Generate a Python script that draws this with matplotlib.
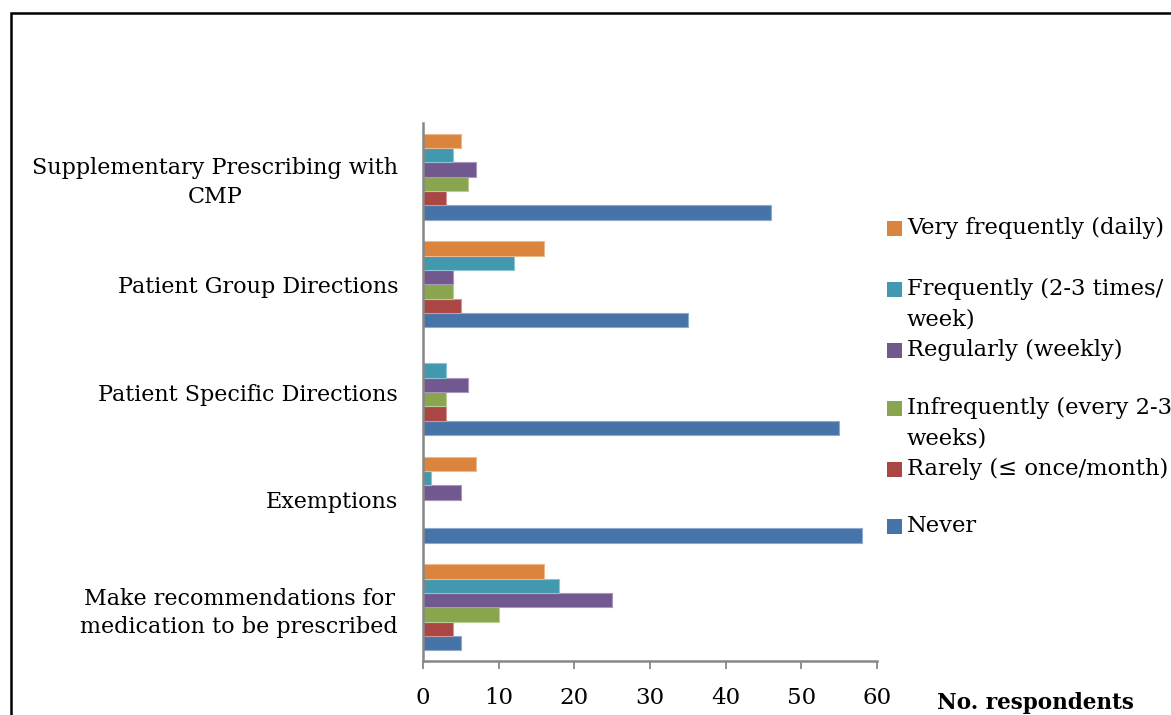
import matplotlib
matplotlib.use("Agg")
import matplotlib.pyplot as plt
from matplotlib.patches import Rectangle
import numpy as np

plt.rcParams['font.family'] = ['DejaVu Serif']

# Categories (bottom to top as drawn on the y axis)
categories = [
    "Make recommendations for\nmedication to be prescribed",
    "Exemptions",
    "Patient Specific Directions",
    "Patient Group Directions",
    "Supplementary Prescribing with\nCMP",
]

# Series (bottom bar in each group first)
series_names = [
    "Never",
    "Rarely (\u2264 once/month)",
    "Infrequently (every 2-3\nweeks)",
    "Regularly (weekly)",
    "Frequently (2-3 times/\nweek)",
    "Very frequently (daily)",
]
never = [5, 58, 55, 35, 46]
rarely = [4, 0, 3, 5, 3]
infrequently = [10, 0, 3, 4, 6]
regularly = [25, 5, 6, 4, 7]
frequently = [18, 1, 3, 12, 4]
very_frequently = [16, 7, 0, 16, 5]
series_values = [never, rarely, infrequently, regularly, frequently, very_frequently]

colors = ["#4674A8", "#AA4643", "#89A54E", "#71588F", "#4198AF", "#DB843D"]
edge_colors = ["#8FA9CC", "#D19593", "#B9CC98", "#A797BD", "#8EC3D2", "#EDB88C"]

W, H = 1171, 715
fig = plt.figure(figsize=(W / 100, H / 100), dpi=100)
fig.patch.set_facecolor("white")

def fx(px):
    return px / W

def fy(py):
    return 1 - py / H

ax = fig.add_axes([fx(423), fy(661), fx(877) - fx(423), fy(123) - fy(661)])

n_series = len(series_values)
group_h = 0.8
bar_h = group_h / n_series
y = np.arange(len(categories))
for i, (vals, c, ec) in enumerate(zip(series_values, colors, edge_colors)):
    offs = -group_h / 2 + (i + 0.5) * bar_h
    vals = np.asarray(vals, dtype=float)
    mask = vals > 0
    ax.barh(y[mask] + offs, vals[mask], height=bar_h, color=c,
            edgecolor=ec, linewidth=0.8, zorder=2)

ax.set_xlim(0, 60)
ax.set_ylim(-0.5, len(categories) - 0.5)
ax.set_xticks(np.arange(0, 61, 10))
ax.set_yticks(y)
ax.set_yticklabels(categories, fontsize=16, multialignment="center",
                   linespacing=1.4)
ax.tick_params(axis="y", length=0, pad=18)
ax.tick_params(axis="x", length=6, width=1.3, color="#878787",
               labelsize=16.5, pad=13, direction="out")

for s in ("top", "right"):
    ax.spines[s].set_visible(False)
for s in ("left", "bottom"):
    ax.spines[s].set_color("#878787")
    ax.spines[s].set_linewidth(1.8)

fig.text(fx(937), fy(703), "No. respondents", fontsize=15.5,
         fontweight="bold", ha="left", va="center")

# Legend drawn entry by entry, top entry first
legend_rows = [228, 289, 350, 408, 469, 526]
legend_order = list(range(n_series))[::-1]
sq = 15
for row_y, idx in zip(legend_rows, legend_order):
    fig.add_artist(Rectangle((fx(887), fy(row_y + sq / 2)), sq / W, sq / H,
                             transform=fig.transFigure, facecolor=colors[idx],
                             edgecolor="none"))
    lines = series_names[idx].split("\n")
    for k, line in enumerate(lines):
        fig.text(fx(907), fy(row_y + 31 * k), line, fontsize=16.3,
                 ha="left", va="center")

# Outer frame
fig.add_artist(Rectangle((fx(11), fy(H + 20)), (W + 20) / W, (H + 7) / H,
                         transform=fig.transFigure, fill=False,
                         edgecolor="black", linewidth=1.8, clip_on=False))

fig.savefig("out.png", dpi=100)
